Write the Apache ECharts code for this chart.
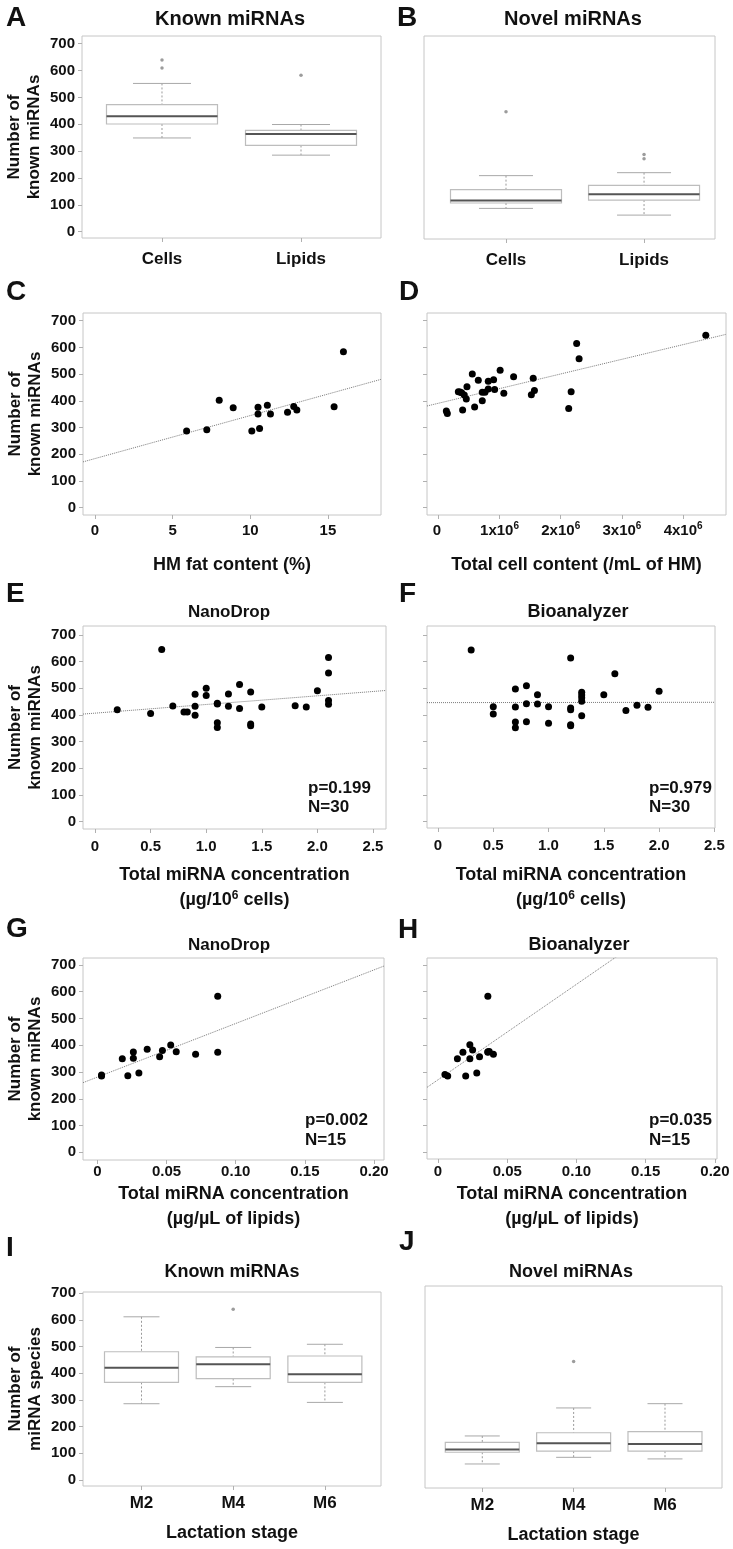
<!DOCTYPE html>
<html>
<head>
<meta charset="utf-8">
<title>miRNA counts</title>
<script src="https://cdn.jsdelivr.net/npm/echarts@6/dist/echarts.min.js"></script>
<style>
  html, body { margin: 0; padding: 0; background: #fff; }
  #chart { width: 733px; height: 1549px; }
</style>
</head>
<body>
<div id="chart"></div>
<script>
// ---- data ----
// boxes are [low whisker, q1, median, q3, high whisker]
const groupsAB = ['Cells', 'Lipids']
const knownAB = [[349, 401, 430, 473, 552], [285, 321, 364, 377, 399]]
const knownABOut = [[1, 639], [1, 609], [2, 582]]
const novelAB = [[87, 107, 116, 157, 209], [62, 118, 140, 173, 220]]
const novelABOut = [[1, 447], [2, 288], [2, 272]]

const stages = ['M2', 'M4', 'M6']
const knownStage = [[286, 366, 421, 481, 612], [350, 380, 434, 462, 497], [291, 366, 397, 465, 509]]
const knownStageOut = [[2, 640]]
const novelStage = [[69, 113, 123, 150, 174], [94, 117, 147, 186, 279], [88, 117, 144, 190, 295]]
const novelStageOut = [[2, 453]]

// C: HM fat content (%)
const fatContent = [5.9, 7.2, 8.0, 8.9, 10.1, 10.5, 10.5, 10.6, 11.1, 11.3, 12.4, 12.8, 13.0, 15.4, 16.0]
const fatKnown = [287, 292, 402, 374, 287, 376, 351, 297, 384, 351, 357, 379, 366, 378, 584]

// D: total cells (x10^6 per mL)
const cellContent = [4.37, 2.26, 2.30, 0.555, 1.01, 1.23, 1.55, 0.653, 0.816, 0.903, 0.468, 0.327, 0.381, 0.424, 0.457,
  0.718, 0.762, 0.816, 0.92, 1.07, 1.57, 1.52, 2.17, 0.718, 0.593, 0.397, 2.13, 0.131, 0.147, 0.354]
const cellKnown = [646, 615, 558, 501, 515, 490, 485, 477, 473, 479, 453, 434, 430, 422, 407,
  432, 432, 444, 443, 429, 439, 423, 434, 400, 377, 366, 371, 362, 353, 433]

// E: NanoDrop, ug / 10^6 cells
const ndCellConc = [0.2, 0.5, 0.6, 0.7, 0.8, 0.83, 0.9, 0.9, 0.9, 1.0, 1.0, 1.1, 1.1, 1.1, 1.2,
  1.2, 1.3, 1.3, 1.4, 1.4, 1.4, 1.5, 1.8, 1.9, 2.0, 2.1, 2.1, 2.1, 2.1, 1.1]
const ndCellKnown = [420, 406, 646, 434, 411, 411, 478, 433, 399, 500, 473, 444, 371, 353, 479,
  433, 514, 424, 486, 366, 360, 430, 435, 430, 491, 616, 558, 454, 440, 441]

// F: Bioanalyzer, ug / 10^6 cells
const baCellConc = [0.3, 1.2, 1.6, 0.7, 0.8, 0.9, 1.3, 1.3, 1.3, 1.3, 1.5, 2.0, 0.5, 0.5, 0.7,
  0.8, 0.9, 1.0, 1.2, 1.2, 1.7, 1.8, 1.9, 1.3, 0.7, 0.7, 0.8, 1.0, 1.2, 1.2]
const baCellKnown = [644, 614, 555, 498, 510, 476, 485, 475, 465, 452, 476, 489, 431, 404, 430,
  442, 441, 431, 426, 420, 417, 437, 429, 397, 374, 352, 375, 369, 364, 360]

// G: NanoDrop, ug / uL of lipids
const ndLipidConc = [0.003, 0.003, 0.018, 0.022, 0.026, 0.026, 0.030, 0.036, 0.045, 0.047, 0.053, 0.057, 0.071, 0.087, 0.087]
const ndLipidKnown = [289, 285, 350, 286, 375, 351, 296, 385, 357, 380, 401, 376, 366, 583, 374]

// H: Bioanalyzer, ug / uL of lipids
const baLipidConc = [0.036, 0.023, 0.025, 0.018, 0.014, 0.023, 0.030, 0.036, 0.037, 0.040, 0.005, 0.007, 0.020, 0.028, 0.036]
const baLipidKnown = [583, 402, 382, 374, 350, 350, 357, 376, 377, 366, 291, 285, 285, 296, 374]

// fitted lines [intercept, slope]
const fitC = [184, 16.1]
const fitD = [391, 54.9]
const fitE = [407, 32.5]
const fitF = [446.5, 0.5]
const fitG = [281, 2003]
const fitH = [271, 3567]

const statsE = ['p=0.199', 'N=30']
const statsF = ['p=0.979', 'N=30']
const statsG = ['p=0.002', 'N=15']
const statsH = ['p=0.035', 'N=15']

const yTicks = [0, 100, 200, 300, 400, 500, 600, 700]
const fatTicks = [0, 5, 10, 15]
const cellTicks = [0, 1, 2, 3, 4]
const cellConcTicks = [0, 0.5, 1.0, 1.5, 2.0, 2.5]
const lipidConcTicks = [0, 0.05, 0.10, 0.15, 0.20]

// ---- styling ----
const font = "'Liberation Sans', Arial, Helvetica, sans-serif"
const ink = '#111'
const frameColor = '#c6c6c6'
const tickColor = '#b0b0b0'

const fmtDec = d => v => (v === 0 ? '0' : v.toFixed(d))
const knownName = 'Number of\nknown miRNAs'
const perCellsName = 'Total miRNA concentration\n(\u00b5g/10{s|6} cells)'
const perLipidName = 'Total miRNA concentration\n(\u00b5g/\u00b5L of lipids)'
// raised small "6" for the 10^6 labels
const supTick = { s: { fontFamily: font, fontWeight: 'bold', fontSize: 10, color: ink, padding: [0, 0, 10, 0] } }
const supName = { s: { fontFamily: font, fontWeight: 'bold', fontSize: 12, color: ink, padding: [0, 0, 10, 0] } }

// one entry per panel, A..J: plot box [left, top, width, height] and axis ranges
const panels = [
  { box: [82, 36, 299, 202], x: [0.4245, 2.5755], y: [-23.5, 728.6], xTicks: [1, 2], xFmt: v => groupsAB[v - 1],
    xSize: 17, xMargin: 13, yLabels: true, yName: knownName },
  { box: [424, 36, 291, 203], x: [0.406, 2.514], y: [-27, 729], xTicks: [1, 2], xFmt: v => groupsAB[v - 1],
    xSize: 17, xMargin: 13, yTickShow: false },
  { box: [83, 313, 298, 202], x: [-0.773, 18.42], y: [-27.3, 729], xTicks: fatTicks, xFmt: v => String(v),
    xSize: 15, xMargin: 8, xName: 'HM fat content (%)', xGap: 38, yLabels: true, yName: knownName },
  { box: [427, 313, 299, 202], x: [-0.185, 4.70], y: [-27.3, 729], xTicks: cellTicks,
    xFmt: v => (v === 0 ? '0{s| }' : v + 'x10{s|6}'), xRich: supTick, xSize: 15, xMargin: 6,
    xName: 'Total cell content (/mL of HM)', xGap: 38 },
  { box: [83, 626, 303, 203], x: [-0.108, 2.617], y: [-27.4, 733.8], xTicks: cellConcTicks, xFmt: fmtDec(1),
    xSize: 15, xMargin: 10, xName: perCellsName, xGap: 34, yLabels: true, yName: knownName },
  { box: [427, 626, 288, 202], x: [-0.0996, 2.506], y: [-23.6, 733.8], xTicks: cellConcTicks, xFmt: fmtDec(1),
    xSize: 15, xMargin: 10, xName: perCellsName, xGap: 35 },
  { box: [83, 958, 301, 202], x: [-0.0104, 0.2072], y: [-28.8, 726], xTicks: lipidConcTicks, xFmt: fmtDec(2),
    xSize: 15, xMargin: 4, xName: perLipidName, xGap: 22, yLabels: true, yName: knownName },
  { box: [427, 958, 290, 201], x: [-0.00795, 0.2015], y: [-25, 726], xTicks: lipidConcTicks, xFmt: fmtDec(2),
    xSize: 15, xMargin: 5, xName: perLipidName, xGap: 23 },
  { box: [83, 1292, 298, 194], x: [0.362, 3.612], y: [-22.5, 705], xTicks: [1, 2, 3], xFmt: v => stages[v - 1],
    xSize: 17, xMargin: 9, xName: 'Lactation stage', xGap: 35, yLabels: true, yName: 'Number of\nmiRNA species' },
  { box: [425, 1286, 297, 202], x: [0.373, 3.624], y: [-21, 736], xTicks: [1, 2, 3], xFmt: v => stages[v - 1],
    xSize: 17, xMargin: 9, xName: 'Lactation stage', xGap: 35, yTickShow: false }
]

const grid = panels.map(p => ({
  left: p.box[0], top: p.box[1], width: p.box[2], height: p.box[3],
  show: true, borderColor: frameColor, borderWidth: 1, backgroundColor: '#fff',
  outerBoundsMode: 'none', containLabel: false
}))

const xAxis = panels.map((p, i) => ({
  gridIndex: i, type: 'value', min: p.x[0], max: p.x[1], position: 'bottom',
  axisLine: { show: false, onZero: false }, splitLine: { show: false },
  axisTick: { show: true, customValues: p.xTicks, length: 4, lineStyle: { color: tickColor } },
  axisLabel: {
    customValues: p.xTicks, formatter: p.xFmt, margin: p.xMargin, rich: p.xRich,
    fontFamily: font, fontWeight: 'bold', fontSize: p.xSize, color: ink
  },
  name: p.xName || '', nameLocation: 'middle', nameGap: p.xGap || 0,
  nameTextStyle: {
    fontFamily: font, fontWeight: 'bold', fontSize: 18, color: ink, lineHeight: 25,
    verticalAlign: 'top', rich: supName
  }
}))

const yAxis = panels.map((p, i) => ({
  gridIndex: i, type: 'value', min: p.y[0], max: p.y[1], position: 'left',
  axisLine: { show: false, onZero: false }, splitLine: { show: false },
  axisTick: { show: p.yTickShow !== false, customValues: yTicks, length: 4, lineStyle: { color: tickColor } },
  axisLabel: {
    show: !!p.yLabels, customValues: yTicks, margin: 7,
    fontFamily: font, fontWeight: 'bold', fontSize: 15, color: ink
  },
  name: p.yName || '', nameLocation: 'middle', nameGap: 38, nameRotate: 90,
  nameTextStyle: { fontFamily: font, fontWeight: 'bold', fontSize: 17, color: ink, lineHeight: 20 }
}))

function boxSeries(idx, boxes, halfW, capHalf) {
  return {
    type: 'custom', xAxisIndex: idx, yAxisIndex: idx,
    encode: { x: 0, y: [1, 2, 3, 4, 5] },
    data: boxes.map((b, k) => [k + 1].concat(b)),
    renderItem(params, api) {
      const x = api.value(0)
      const at = k => api.coord([x, api.value(k)])
      const low = at(1), q1 = at(2), med = at(3), q3 = at(4), high = at(5)
      const cx = med[0]
      const whisker = { stroke: '#9a9a9a', lineWidth: 1, lineDash: [2, 2] }
      const cap = { stroke: '#a8a8a8', lineWidth: 1 }
      return {
        type: 'group',
        children: [
          { type: 'line', shape: { x1: cx, y1: high[1], x2: cx, y2: q3[1] }, style: whisker },
          { type: 'line', shape: { x1: cx, y1: q1[1], x2: cx, y2: low[1] }, style: whisker },
          { type: 'line', shape: { x1: cx - capHalf, y1: high[1], x2: cx + capHalf, y2: high[1] }, style: cap },
          { type: 'line', shape: { x1: cx - capHalf, y1: low[1], x2: cx + capHalf, y2: low[1] }, style: cap },
          { type: 'rect', shape: { x: cx - halfW, y: q3[1], width: halfW * 2, height: q1[1] - q3[1] },
            style: { fill: '#fff', stroke: '#bdbdbd', lineWidth: 1.2 } },
          { type: 'line', shape: { x1: cx - halfW, y1: med[1], x2: cx + halfW, y2: med[1] },
            style: { stroke: '#555', lineWidth: 2 } }
        ]
      }
    }
  }
}

function outliers(idx, pts) {
  return {
    type: 'scatter', xAxisIndex: idx, yAxisIndex: idx, data: pts,
    symbolSize: 3.5, itemStyle: { color: '#9c9c9c', opacity: 1 }, z: 3
  }
}

function dots(idx, xs, ys) {
  return {
    type: 'scatter', xAxisIndex: idx, yAxisIndex: idx,
    data: xs.map((v, k) => [v, ys[k]]),
    symbolSize: 7, itemStyle: { color: '#000', opacity: 1 }, z: 4
  }
}

function fitLine(idx, fit) {
  const [x0, x1] = panels[idx].x
  return {
    type: 'line', xAxisIndex: idx, yAxisIndex: idx, clip: true,
    data: [[x0, fit[0] + fit[1] * x0], [x1, fit[0] + fit[1] * x1]],
    symbol: 'none', lineStyle: { color: '#7a7a7a', width: 1, type: 'dotted' }, z: 2
  }
}

function label(text, x, y, size, align) {
  return {
    type: 'text', x, y,
    style: {
      text, fill: ink, fontFamily: font, fontWeight: 'bold', fontSize: size,
      align: align || 'left', verticalAlign: 'middle',
      textAlign: align || 'left', textVerticalAlign: 'middle'
    }
  }
}

const graphic = [
  label('A', 6, 18, 28), label('B', 397, 18, 28),
  label('C', 6, 292, 28), label('D', 399, 292, 28),
  label('E', 6, 594, 28), label('F', 399, 594, 28),
  label('G', 6, 929, 28), label('H', 398, 930, 28),
  label('I', 6, 1248, 28), label('J', 399, 1242, 28),
  label('Known miRNAs', 230, 19, 20, 'center'),
  label('Novel miRNAs', 573, 19, 20, 'center'),
  label('NanoDrop', 229, 612, 17, 'center'),
  label('Bioanalyzer', 578, 612, 18, 'center'),
  label('NanoDrop', 229, 945, 17, 'center'),
  label('Bioanalyzer', 579, 945, 18, 'center'),
  label('Known miRNAs', 232, 1272, 18, 'center'),
  label('Novel miRNAs', 571, 1272, 18, 'center'),
  label(statsE[0], 308, 788, 17), label(statsE[1], 308, 807, 17),
  label(statsF[0], 649, 788, 17), label(statsF[1], 649, 807, 17),
  label(statsG[0], 305, 1120, 17), label(statsG[1], 305, 1140, 17),
  label(statsH[0], 649, 1120, 17), label(statsH[1], 649, 1140, 17)
]

const chart = echarts.init(document.getElementById('chart'))
chart.setOption({
  animation: false,
  backgroundColor: '#fff',
  grid, xAxis, yAxis, graphic,
  series: [
    boxSeries(0, knownAB, 55.5, 29), outliers(0, knownABOut),
    boxSeries(1, novelAB, 55.5, 27), outliers(1, novelABOut),
    fitLine(2, fitC), dots(2, fatContent, fatKnown),
    fitLine(3, fitD), dots(3, cellContent, cellKnown),
    fitLine(4, fitE), dots(4, ndCellConc, ndCellKnown),
    fitLine(5, fitF), dots(5, baCellConc, baCellKnown),
    fitLine(6, fitG), dots(6, ndLipidConc, ndLipidKnown),
    fitLine(7, fitH), dots(7, baLipidConc, baLipidKnown),
    boxSeries(8, knownStage, 37, 18), outliers(8, knownStageOut),
    boxSeries(9, novelStage, 37, 17.5), outliers(9, novelStageOut)
  ]
})
</script>
</body>
</html>
